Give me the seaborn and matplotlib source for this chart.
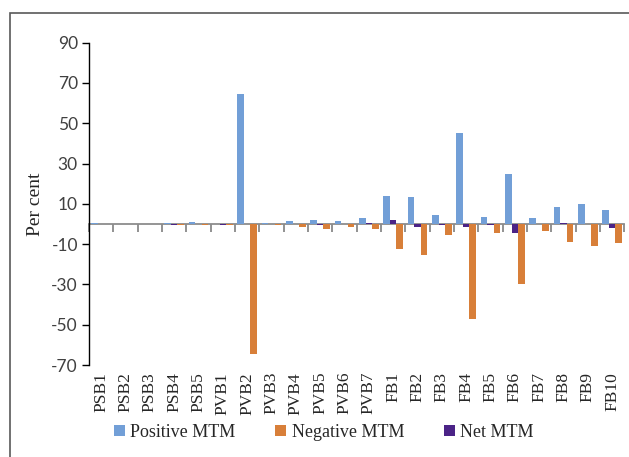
import pandas as pd
import seaborn as sns
import matplotlib
matplotlib.use("Agg")
import matplotlib.pyplot as plt
from matplotlib.patches import Rectangle
from matplotlib.font_manager import FontProperties

categories = ['PSB1', 'PSB2', 'PSB3', 'PSB4', 'PSB5',
              'PVB1', 'PVB2', 'PVB3', 'PVB4', 'PVB5', 'PVB6', 'PVB7',
              'FB1', 'FB2', 'FB3', 'FB4', 'FB5', 'FB6', 'FB7', 'FB8', 'FB9', 'FB10']
positive_mtm = [0.3, 0.1, 0.1, 0.4, 0.8, 0.0, 64.3, 0.3, 1.3, 1.8, 1.3, 2.8,
                14.0, 13.5, 4.5, 45.3, 3.3, 24.8, 2.8, 8.3, 9.8, 6.8]
negative_mtm = [-0.2, -0.2, -0.2, -0.7, -0.7, -0.3, -64.5, -0.5, -1.3, -2.3, -1.3, -2.3,
                -12.2, -15.2, -5.7, -47.2, -4.7, -29.7, -3.7, -8.7, -10.7, -9.2]
net_mtm = [0.1, -0.1, -0.1, -0.3, 0.1, -0.3, -0.2, -0.2, 0.0, -0.5, 0.0, 0.5,
           2.2, -1.5, -0.5, -1.5, -0.7, -4.5, -0.2, 0.5, -0.2, -1.8]
y_ticks = [90, 70, 50, 30, 10, -10, -30, -50, -70]

series = ['Positive MTM', 'Net MTM', 'Negative MTM']
colors = {'Positive MTM': '#729FD7', 'Negative MTM': '#D87F39', 'Net MTM': '#4B2387'}

df = pd.DataFrame({'cat': categories, 'Positive MTM': positive_mtm,
                   'Negative MTM': negative_mtm, 'Net MTM': net_mtm})
long = df.melt(id_vars='cat', var_name='series', value_name='val')

sns.set_theme(style='white')
serif = ['Liberation Serif', 'DejaVu Serif']
sans = ['Lato', 'DejaVu Sans']
plt.rcParams['font.family'] = serif

fig = plt.figure(figsize=(6.29, 4.57), dpi=100)
ax = fig.add_axes([89 / 629, 1 - 365 / 457, (624.3 - 89) / 629, (365 - 42.7) / 457])

sns.barplot(data=long, x='cat', y='val', hue='series', hue_order=series,
            order=categories, palette=colors, width=0.8, saturation=1,
            ax=ax, legend=True)
for p in ax.patches:
    p.set_edgecolor('none')

ylo, yhi = -70, 90
ax.set_ylim(ylo, yhi)
ax.set_xlim(-0.5, len(categories) - 0.5)
ax.set_yticks(y_ticks)
ax.set_yticklabels([str(t) for t in y_ticks], family=sans, fontsize=12.5, color='#404040')
ax.tick_params(axis='y', length=5, width=1, color='black', left=True, pad=3)
ax.set_xticks(range(len(categories)))
ax.set_xticklabels(categories, rotation=90, family=serif, fontsize=12.5, color='#262626')
ax.tick_params(axis='x', length=0, pad=5)
ax.set_xlabel('')
ax.set_ylabel('Per cent', family=serif, fontsize=14, color='#262626', labelpad=5)

for s in ['top', 'right', 'bottom']:
    ax.spines[s].set_visible(False)
ax.spines['left'].set_color('black')
ax.spines['left'].set_linewidth(1)

# zero axis line with category boundary ticks
zero_ax = ax.secondary_xaxis((0 - ylo) / (yhi - ylo))
zero_ax.set_xticks([i - 0.5 for i in range(len(categories) + 1)])
zero_ax.set_xticklabels([])
zero_ax.tick_params(length=6, width=1.2, color='#7f7f7f')
zero_ax.spines['bottom'].set_color('#8c8c8c')
zero_ax.spines['bottom'].set_linewidth(1.3)
zero_ax.spines['top'].set_visible(False)

handles, labels = ax.get_legend_handles_labels()
ax.get_legend().remove()
order = [labels.index(n) for n in ['Positive MTM', 'Negative MTM', 'Net MTM']]
fig.legend([handles[i] for i in order], [labels[i] for i in order],
           loc='center', bbox_to_anchor=(0.515, 0.054), ncol=3, frameon=False,
           prop=FontProperties(family=serif, size=13), handlelength=0.6, handleheight=0.6,
           handletextpad=0.3, columnspacing=2.2, labelcolor='#262626')

fig.add_artist(Rectangle((10 / 629, -0.05), 1.1, 1 - 13 / 457 + 0.05,
                         transform=fig.transFigure, fill=False,
                         edgecolor='#595959', linewidth=1.2))

fig.savefig('out.png', dpi=100)
